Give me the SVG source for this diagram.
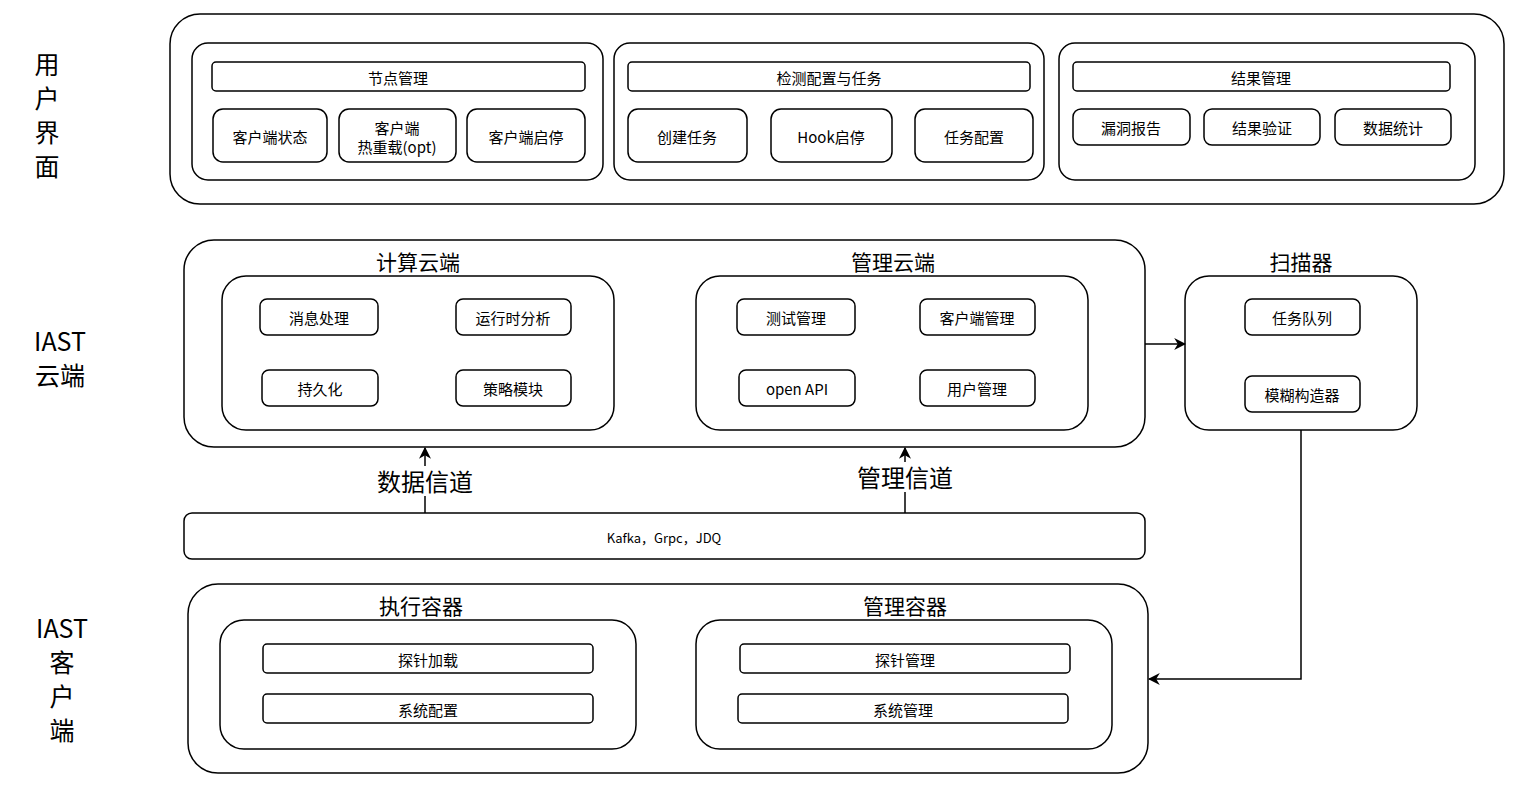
<svg xmlns="http://www.w3.org/2000/svg" width="1520" height="786" viewBox="0 0 1520 786">
<style>
rect{fill:#fff;stroke:#000;stroke-width:1.5}
text{font-family:"Noto Sans CJK SC","Liberation Sans",sans-serif;text-anchor:middle;dominant-baseline:central;fill:#000}
.s{font-size:15px}.t{font-size:21px}.l{font-size:25px}
.c{fill:none;stroke:#000;stroke-width:1.5}
</style>
<defs><marker id="a" viewBox="0 0 10 10" refX="9" refY="5" markerWidth="8" markerHeight="8" orient="auto"><path d="M0,0L10,5L0,10L3,5z" fill="#000"/></marker></defs>
<rect x="0" y="0" width="1520" height="786" style="stroke:none"/>
<g id="labels">
<text class="l" x="47" y="63">用</text><text class="l" x="47" y="97">户</text><text class="l" x="47" y="131">界</text><text class="l" x="47" y="165">面</text>
<text class="l" x="60" y="340">IAST</text><text class="l" x="60" y="374">云端</text>
<text class="l" x="62" y="627">IAST</text><text class="l" x="62" y="661">客</text><text class="l" x="62" y="695">户</text><text class="l" x="62" y="729">端</text>
</g>
<g id="ui">
<rect x="170" y="14" width="1334" height="190" rx="30"/>
<rect x="192" y="43" width="411" height="137" rx="16"/>
<rect x="614" y="43" width="430" height="137" rx="16"/>
<rect x="1059" y="43" width="416" height="137" rx="16"/>
<rect x="212" y="62" width="373" height="29" rx="4"/><text class="s" x="398" y="77">节点管理</text>
<rect x="628" y="62" width="402" height="29" rx="4"/><text class="s" x="829" y="77">检测配置与任务</text>
<rect x="1073" y="62" width="377" height="29" rx="4"/><text class="s" x="1261" y="77">结果管理</text>
<rect x="213" y="109" width="114" height="53" rx="10"/><text class="s" x="270" y="136">客户端状态</text>
<rect x="339" y="109" width="117" height="53" rx="10"/><text class="s" x="397" y="127">客户端</text><text class="s" x="397" y="146">热重载(opt)</text>
<rect x="467" y="109" width="118" height="53" rx="10"/><text class="s" x="526" y="136">客户端启停</text>
<rect x="628" y="109" width="119" height="53" rx="10"/><text class="s" x="687" y="136">创建任务</text>
<rect x="771" y="109" width="121" height="53" rx="10"/><text class="s" x="831" y="136">Hook启停</text>
<rect x="915" y="109" width="118" height="53" rx="10"/><text class="s" x="974" y="136">任务配置</text>
<rect x="1073" y="109" width="117" height="36" rx="8"/><text class="s" x="1131" y="127">漏洞报告</text>
<rect x="1204" y="109" width="116" height="36" rx="8"/><text class="s" x="1262" y="127">结果验证</text>
<rect x="1335" y="109" width="116" height="36" rx="8"/><text class="s" x="1393" y="127">数据统计</text>
</g>
<g id="cloud">
<rect x="184" y="240" width="961" height="207" rx="30"/>
<text class="t" x="418" y="261">计算云端</text><text class="t" x="893" y="261">管理云端</text>
<rect x="222" y="276" width="392" height="154" rx="24"/>
<rect x="696" y="276" width="392" height="154" rx="24"/>
<rect x="260" y="299" width="118" height="36" rx="7"/><text class="s" x="319" y="317">消息处理</text>
<rect x="456" y="299" width="115" height="36" rx="7"/><text class="s" x="513" y="317">运行时分析</text>
<rect x="262" y="370" width="116" height="36" rx="7"/><text class="s" x="320" y="388">持久化</text>
<rect x="456" y="370" width="115" height="36" rx="7"/><text class="s" x="513" y="388">策略模块</text>
<rect x="737" y="299" width="118" height="36" rx="7"/><text class="s" x="796" y="317">测试管理</text>
<rect x="920" y="299" width="115" height="36" rx="7"/><text class="s" x="977" y="317">客户端管理</text>
<rect x="739" y="370" width="116" height="36" rx="7"/><text class="s" x="797" y="388">open API</text>
<rect x="920" y="370" width="115" height="36" rx="7"/><text class="s" x="977" y="388">用户管理</text>
</g>
<g id="scanner">
<text class="t" x="1301" y="261">扫描器</text>
<rect x="1185" y="276" width="232" height="154" rx="24"/>
<rect x="1245" y="299" width="115" height="36" rx="7"/><text class="s" x="1302" y="317">任务队列</text>
<rect x="1245" y="376" width="115" height="36" rx="7"/><text class="s" x="1302" y="394">模糊构造器</text>
</g>
<g id="bus">
<rect x="184" y="513" width="961" height="46" rx="8"/><text x="664" y="537" style="font-size:13px">Kafka，Grpc，JDQ</text>
</g>
<g id="client">
<rect x="188" y="584" width="960" height="189" rx="30"/>
<text class="t" x="421" y="605">执行容器</text><text class="t" x="905" y="605">管理容器</text>
<rect x="220" y="620" width="416" height="129" rx="24"/>
<rect x="696" y="620" width="416" height="129" rx="24"/>
<rect x="263" y="644" width="330" height="29" rx="4"/><text class="s" x="428" y="659">探针加载</text>
<rect x="263" y="694" width="330" height="29" rx="4"/><text class="s" x="428" y="709">系统配置</text>
<rect x="740" y="644" width="330" height="29" rx="4"/><text class="s" x="905" y="659">探针管理</text>
<rect x="738" y="694" width="330" height="29" rx="4"/><text class="s" x="903" y="709">系统管理</text>
</g>
<g id="connectors">
<path class="c" d="M425,513V448" marker-end="url(#a)"/>
<path class="c" d="M905,513V448" marker-end="url(#a)"/>
<path class="c" d="M1145,344H1185" marker-end="url(#a)"/>
<path class="c" d="M1301,430V679H1149" marker-end="url(#a)"/>
<rect x="366" y="466" width="118" height="30" style="stroke:none"/><text x="425" y="480" style="font-size:24px">数据信道</text>
<rect x="846" y="462" width="118" height="30" style="stroke:none"/><text x="905" y="476" style="font-size:24px">管理信道</text>
</g>
</svg>
